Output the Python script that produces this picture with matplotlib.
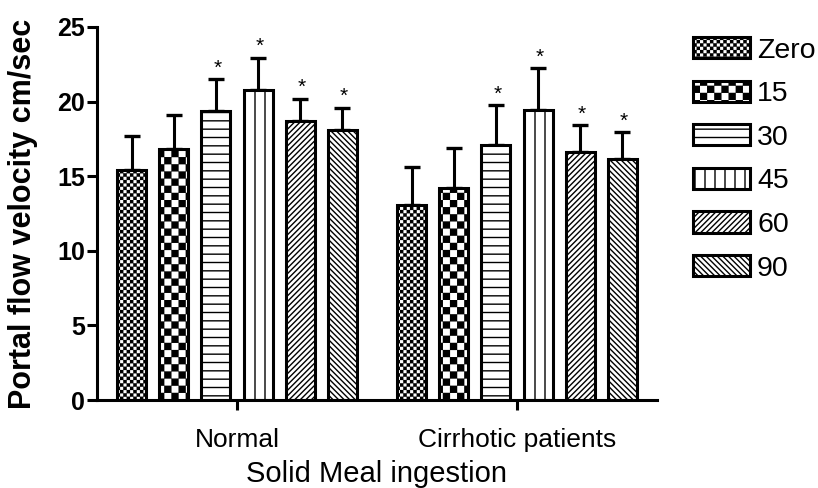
import numpy as np
import matplotlib
matplotlib.use("Agg")
import matplotlib.pyplot as plt
import matplotlib.hatch as mhatch
from matplotlib.path import Path

groups = ["Normal", "Cirrhotic patients"]
times = ["Zero", "15", "30", "45", "60", "90"]
means = {
    "Normal": [15.4, 16.8, 19.4, 20.8, 18.7, 18.1],
    "Cirrhotic patients": [13.1, 14.2, 17.1, 19.45, 16.6, 16.15],
}
errs = {
    "Normal": [2.3, 2.3, 2.1, 2.15, 1.5, 1.5],
    "Cirrhotic patients": [2.55, 2.7, 2.65, 2.8, 1.8, 1.8],
}
starred = [False, False, True, True, True, True]
hatches = ["o", "O", "--", "|", "//////", "\\\\\\\\\\\\"]


# GraphPad style checkerboard fills, plugged in place of the circle hatches
class Checker(mhatch.HatchPatternBase):
    char = "o"
    cells = 30

    def __init__(self, hatch, density):
        self.num_vertices = (self.cells * self.cells // 2) * 5 if self.char in hatch else 0

    def set_vertices_and_codes(self, vertices, codes):
        c = 1.0 / self.cells
        e = 0.006
        k = 0
        for i in range(self.cells):
            for j in range(self.cells):
                if (i + j) % 2:
                    continue
                x0, y0, x1, y1 = i * c + e, j * c + e, (i + 1) * c - e, (j + 1) * c - e
                vertices[k:k + 5] = [(x0, y0), (x1, y0), (x1, y1), (x0, y1), (x0, y0)]
                codes[k:k + 5] = [Path.MOVETO, Path.LINETO, Path.LINETO, Path.LINETO, Path.CLOSEPOLY]
                k += 5


class CoarseChecker(Checker):
    char = "O"
    cells = 14


class VLines(mhatch.HatchPatternBase):
    def __init__(self, hatch, density):
        self.num_lines = hatch.count("|") * 10
        self.num_vertices = self.num_lines * 2

    def set_vertices_and_codes(self, vertices, codes):
        steps, step = np.linspace(0.0, 1.0, self.num_lines, False, retstep=True)
        steps += step / 2.0
        vertices[0::2, 0] = steps
        vertices[0::2, 1] = 0.0
        vertices[1::2, 0] = steps
        vertices[1::2, 1] = 1.0
        codes[0::2] = Path.MOVETO
        codes[1::2] = Path.LINETO


swap = {mhatch.SmallCircles: Checker, mhatch.LargeCircles: CoarseChecker, mhatch.VerticalHatch: VLines}
mhatch._hatch_types = [swap.get(t, t) for t in mhatch._hatch_types]

plt.rcParams["font.family"] = ["Liberation Sans", "DejaVu Sans"]
plt.rcParams["hatch.linewidth"] = 1.0

W, H = 818, 488
fig = plt.figure(figsize=(W / 100, H / 100), dpi=100)
ax = fig.add_axes([97 / W, (H - 400) / H, (657 - 97) / W, (400 - 27) / H])

step = 0.1505
width = 0.104
xg = np.arange(len(groups))
for k, t in enumerate(times):
    xs = xg + (k - 2.5) * step
    vals = [means[g][k] for g in groups]
    ee = [errs[g][k] for g in groups]
    ax.bar(xs, vals, width, color="white", edgecolor="black", linewidth=2.2,
           hatch=hatches[k], label=t, zorder=2)
    ax.errorbar(xs, vals, yerr=[np.zeros(len(ee)), ee], fmt="none", ecolor="black",
                elinewidth=2.2, capsize=6, capthick=2.4, zorder=1)
    if starred[k]:
        for x, v, e in zip(xs, vals, ee):
            ax.annotate("*", (x, v + e), xytext=(1, 1), textcoords="offset points",
                        ha="center", va="bottom", fontsize=15)

ax.set_xlim(-0.5, 1.5)
ax.set_ylim(0, 25)
ax.set_yticks([0, 5, 10, 15, 20, 25])
ax.set_xticks(xg)
ax.set_xticklabels(groups, fontsize=19)
for lab in ax.get_yticklabels():
    lab.set_fontsize(18)
    lab.set_fontweight("bold")
ax.spines["top"].set_visible(False)
ax.spines["right"].set_visible(False)
ax.spines["left"].set_linewidth(2.2)
ax.spines["bottom"].set_linewidth(2.2)
ax.tick_params(axis="y", length=7, width=2.2, pad=1.5)
ax.tick_params(axis="x", length=7, width=2.2, pad=13)
ax.set_ylabel("Portal flow velocity cm/sec", fontsize=22, fontweight="bold", labelpad=14)
ax.set_xlabel("Solid Meal ingestion", fontsize=21, labelpad=6)

fig.legend(loc="upper left", bbox_to_anchor=(693 / W, 1 - 37 / H), frameon=False,
           fontsize=20.5, handlelength=2.0, handleheight=0.77, handletextpad=0.25,
           labelspacing=0.6, borderpad=0, borderaxespad=0)

fig.savefig("out.png", dpi=100)
